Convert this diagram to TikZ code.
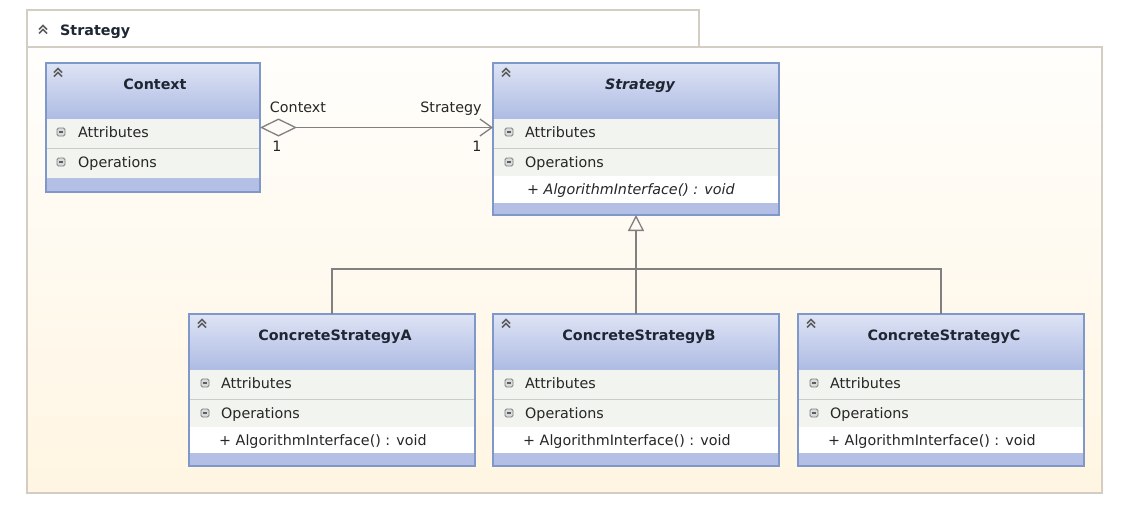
\documentclass[tikz,border=0pt]{standalone}
\usepackage{fontspec}
\setmainfont{DejaVu Sans}
\usetikzlibrary{arrows.meta,positioning}

\definecolor{umlborder}{HTML}{7F97C9}
\definecolor{umlheadtop}{HTML}{DEE4F5}
\definecolor{umlheadbot}{HTML}{AEBBE3}
\definecolor{umlcomp}{HTML}{F2F4EF}
\definecolor{umlsep}{HTML}{C9CDCB}
\definecolor{umlband}{HTML}{B3BFE4}
\definecolor{pkgline}{HTML}{D3CDC4}
\definecolor{pkgtop}{HTML}{FFFEFC}
\definecolor{pkgbot}{HTML}{FFF5E2}
\definecolor{connline}{HTML}{808080}
\definecolor{textgray}{HTML}{262626}
\definecolor{titleink}{HTML}{1E2633}
\definecolor{icongray}{HTML}{5E5E5E}
\definecolor{iconfill}{HTML}{DADADA}

\begin{document}
\begin{tikzpicture}[x=1pt,y=-1pt,
  txt/.style={font=\fontsize{14.3}{16}\selectfont,text=textgray,inner sep=0pt,
    text height=11pt,text depth=1pt},
  cell/.style={txt,anchor=west},
  ctitle/.style={txt,font=\fontsize{14.3}{16}\selectfont\bfseries,text=titleink},
  classbox/.style={fill=umlband,anchor=north west,inner sep=0pt,outer sep=0pt},
  head/.style={top color=umlheadtop,bottom color=umlheadbot},
  comp/.style={fill=umlcomp},
  sep/.style={draw=umlsep,line width=0.8pt},
  frame/.style={draw=umlborder,line width=1.2pt},
  icon/.style={draw=icongray,line width=1.5pt},
  conn/.style={draw=connline,line width=1.3pt},
  dcaret/.pic={\draw[icon] (-4,-0.5) -- (0,-4.5) -- (4,-0.5) (-4,3.5) -- (0,-0.5) -- (4,3.5);},
  minusbox/.pic={\draw[draw=gray,fill=iconfill,line width=0.8pt,rounded corners=1.5pt]
      (-4,-4) rectangle (4,4);
    \draw[icongray,line width=1.2pt] (-2.2,0) -- (2.2,0);},
]
\useasboundingbox (0,0) rectangle (1133,514);

% === package frame ===
\fill[white] (0,0) rectangle (1133,514);
\draw[pkgline,line width=1.4pt,fill=white] (27,47) -- (27,10) -- (699,10) -- (699,47);
\shade[top color=pkgtop,bottom color=pkgbot,draw=pkgline,line width=1.4pt]
  (27,47) rectangle (1102,493);
\pic at (43,30) {dcaret};
\node[ctitle,anchor=west] (pkgname) at (60,30) {Strategy};

% === Context ===
\node[classbox,minimum width=214pt,minimum height=129pt] (ctx) at (46,63) {};
\shade[head] (46,63) rectangle (260,119);
\fill[comp] (46,119) rectangle (260,178);
\draw[sep] (46,148) -- (260,148);
\draw[frame] (ctx.north west) rectangle (ctx.south east);
\pic at (58,73) {dcaret};
\node[ctitle] (ctx-t) at (155,84) {Context};
\pic at (61,132) {minusbox};
\node[cell] (ctx-a) at (78,132) {Attributes};
\pic at (61,162) {minusbox};
\node[cell] (ctx-o) at (78,162) {Operations};

% === Strategy (abstract) ===
\node[classbox,minimum width=286pt,minimum height=152pt] (strat) at (493,63) {};
\shade[head] (493,63) rectangle (779,119);
\fill[comp] (493,119) rectangle (779,176);
\fill[white] (493,176) rectangle (779,203);
\draw[sep] (493,148) -- (779,148);
\draw[frame] (strat.north west) rectangle (strat.south east);
\pic at (506,73) {dcaret};
\node[ctitle,font=\fontsize{14.3}{16}\selectfont\bfseries\itshape] (strat-t) at (640,84) {Strategy};
\pic at (509,132) {minusbox};
\node[cell] (strat-a) at (525,132) {Attributes};
\pic at (509,162) {minusbox};
\node[cell] (strat-o) at (525,162) {Operations};
\node[cell,font=\fontsize{14.3}{16}\selectfont\itshape] (strat-m) at (527,189) {+ AlgorithmInterface() : void};

% === concrete strategies ===
\foreach \cls/\lx in {A/189,B/493,C/798} {
  \node[classbox,minimum width=286pt,minimum height=152pt] (cs\cls) at (\lx,314) {};
  \shade[head] (\lx,314) rectangle ++(286,56);
  \fill[comp] (\lx,370) rectangle ++(286,57);
  \fill[white] (\lx,427) rectangle ++(286,26);
  \draw[sep] (\lx,399) -- ++(286,0);
  \draw[frame] (cs\cls.north west) rectangle (cs\cls.south east);
  \pic at (\lx+13,324) {dcaret};
  \node[ctitle] (cs\cls-t) at (\lx+146,335) {ConcreteStrategy\cls};
  \pic at (\lx+16,383) {minusbox};
  \node[cell] (cs\cls-a) at (\lx+32,383) {Attributes};
  \pic at (\lx+16,413) {minusbox};
  \node[cell] (cs\cls-o) at (\lx+32,413) {Operations};
  \node[cell] (cs\cls-m) at (\lx+30,440) {+ AlgorithmInterface() : void};
}

% === connectors ===
% aggregation Context -> Strategy
\draw[conn,{Diamond[open,length=37pt,width=18pt]}-{Straight Barb[length=12pt,width=17pt]}]
  (ctx.east) -- (ctx.east -| strat.west);
\node[txt] (ctx-role) at (298,107) {Context};
\node[txt] (ctx-mult) at (277,146) {1};
\node[txt] (strat-role) at (451,107) {Strategy};
\node[txt] (strat-mult) at (477,146) {1};

% generalization
\coordinate (split) at (636,269);
\draw[conn] (csA.north) |- (split);
\draw[conn] (csC.north) |- (split);
\draw[conn,-{Triangle[open,length=16pt,width=16pt]}] (csB.north) -- (strat.south);

\end{tikzpicture}
\end{document}
